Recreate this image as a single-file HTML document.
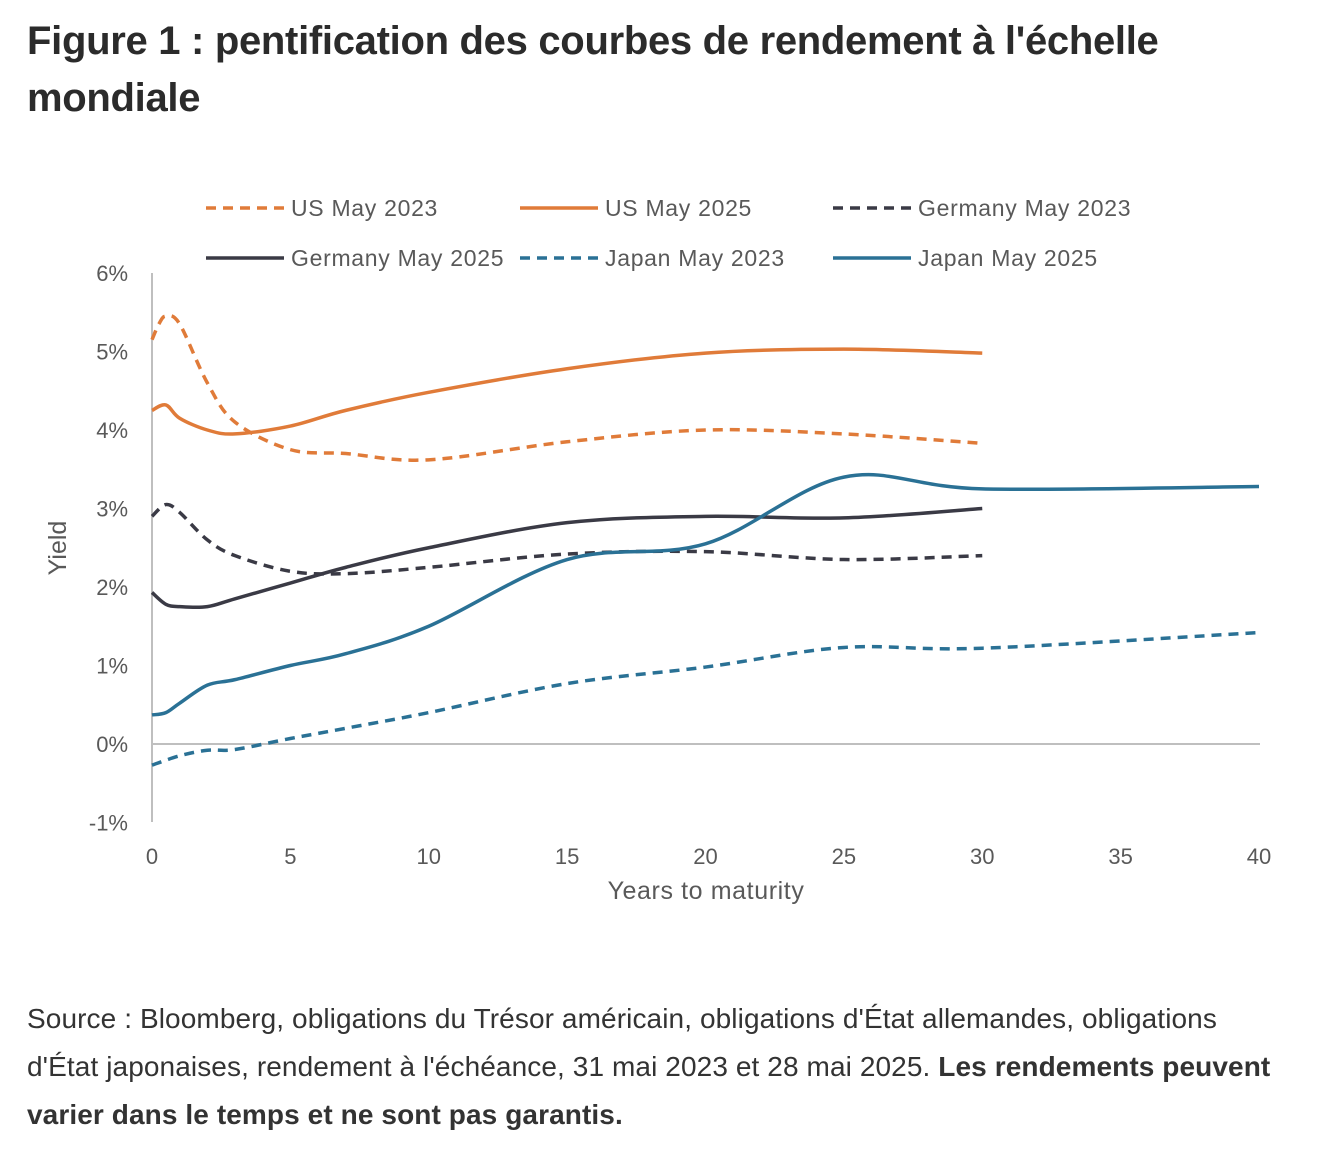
<!DOCTYPE html>
<html><head><meta charset="utf-8">
<style>
body{margin:0;background:#fff;width:1334px;height:1152px;overflow:hidden;font-family:"Liberation Sans",sans-serif;}
#title{position:absolute;left:27px;top:13px;width:1200px;font-size:40px;font-weight:900;color:#2b2b2b;line-height:57px;letter-spacing:-0.3px;margin:0;}
#source{position:absolute;left:27px;top:995px;width:1258px;font-size:28px;color:#333;line-height:48px;letter-spacing:0.1px;}
svg{position:absolute;left:0;top:0;}
text{font-family:"Liberation Sans",sans-serif;fill:#595959;}
</style></head><body>
<h1 id="title">Figure 1 : pentification des courbes de rendement à l'échelle mondiale</h1>
<svg id="chart" width="1334" height="960"></svg>
<div id="source">Source : Bloomberg, obligations du Trésor américain, obligations d'État allemandes, obligations d'État japonaises, rendement à l'échéance, 31 mai 2023 et 28 mai 2025. <b>Les rendements peuvent varier dans le temps et ne sont pas garantis.</b></div>
<script>
const xTicks=[0,5,10,15,20,25,30,35,40];
const yTicks=[-1,0,1,2,3,4,5,6];
const seriesNames=["US May 2023","US May 2025","Germany May 2023","Germany May 2025","Japan May 2023","Japan May 2025"];
const usMay2023X=[0,0.25,0.5,1,2,3,5,7,10,15,20,25,30];
const usMay2023Y=[5.15,5.35,5.45,5.35,4.6,4.1,3.75,3.7,3.62,3.85,4.0,3.95,3.83];
const usMay2025X=[0,0.5,1,2,3,5,7,10,15,20,25,30];
const usMay2025Y=[4.25,4.32,4.15,4.0,3.95,4.05,4.25,4.48,4.78,4.98,5.03,4.98];
const deMay2023X=[0,0.5,1,2,3,5,7,10,15,20,25,30];
const deMay2023Y=[2.9,3.05,2.95,2.6,2.4,2.2,2.17,2.25,2.42,2.45,2.35,2.4];
const deMay2025X=[0,0.5,1,2,3,5,7,10,15,20,25,30];
const deMay2025Y=[1.93,1.78,1.75,1.75,1.85,2.05,2.25,2.5,2.82,2.9,2.88,3.0];
const jpMay2023X=[0,1,2,3,5,7,10,15,20,25,30,40];
const jpMay2023Y=[-0.27,-0.15,-0.08,-0.07,0.07,0.2,0.4,0.77,0.98,1.23,1.22,1.42];
const jpMay2025X=[0,0.5,1,2,3,5,7,10,15,20,25,30,40];
const jpMay2025Y=[0.37,0.4,0.52,0.75,0.82,1.0,1.15,1.5,2.35,2.55,3.4,3.25,3.28];

const NS="http://www.w3.org/2000/svg";
const svg=document.getElementById('chart');
const sx=v=>152+v*(1259-152)/40;
const sy=v=>744-v*78.5;
function mk(t,a,p){const e=document.createElementNS(NS,t);for(const k in a)e.setAttribute(k,a[k]);(p||svg).appendChild(e);return e;}

const yAxis=mk('line',{x1:152,y1:273,x2:152,y2:822,stroke:'#bfbfbf','stroke-width':2});


const zero=mk('line',{x1:152,y1:sy(0),x2:1260,y2:sy(0),stroke:'#bfbfbf','stroke-width':2});


yTicks.forEach(v=>{const t=mk('text',{x:128,y:sy(v)+8,'text-anchor':'end','font-size':22});t.textContent=v+'%';

});
xTicks.forEach(v=>{const t=mk('text',{x:sx(v),y:864,'text-anchor':'middle','font-size':22});t.textContent=v;

});
const xt=mk('text',{x:706,y:899,'text-anchor':'middle','font-size':25,'letter-spacing':0.6});xt.textContent='Years to maturity';


const yt=mk('text',{x:66,y:548,'text-anchor':'middle','font-size':25,transform:'rotate(-90 66 548)'});yt.textContent='Yield';



function path(xs,ys){const P=xs.map((x,i)=>[sx(x),sy(ys[i])]);let d='M'+P[0][0]+','+P[0][1];
for(let i=0;i<P.length-1;i++){const p0=P[i-1]||P[i],p1=P[i],p2=P[i+1],p3=P[i+2]||P[i+1];
const c1=[p1[0]+(p2[0]-p0[0])/6,p1[1]+(p2[1]-p0[1])/6],c2=[p2[0]-(p3[0]-p1[0])/6,p2[1]-(p3[1]-p1[1])/6];
d+=`C${c1[0]},${c1[1]} ${c2[0]},${c2[1]} ${p2[0]},${p2[1]}`;}return d;}
const data=[[usMay2023X,usMay2023Y],[usMay2025X,usMay2025Y],[deMay2023X,deMay2023Y],[deMay2025X,deMay2025Y],[jpMay2023X,jpMay2023Y],[jpMay2025X,jpMay2025Y]];
const colors=['#e07b39','#e07b39','#3a3a45','#3a3a45','#2a7195','#2a7195'];
const dashed=[true,false,true,false,true,false];
const slugs=['us-may-2023','us-may-2025','germany-may-2023','germany-may-2025','japan-may-2023','japan-may-2025'];
data.forEach((s,i)=>{const p=mk('path',{d:path(s[0],s[1]),fill:'none',stroke:colors[i],'stroke-width':3.5,'stroke-dasharray':dashed[i]?'10 7':'none'});

});
const lx=[206,520,833],ly=[208,258];
seriesNames.forEach((n,i)=>{const x=lx[i%3],y=ly[Math.floor(i/3)];
const g=mk('g',{});


mk('line',{x1:x,y1:y,x2:x+78,y2:y,stroke:colors[i],'stroke-width':3.5,'stroke-dasharray':dashed[i]?'10 7':'none'},g);
const t=mk('text',{x:x+85,y:y+8,'font-size':23,'letter-spacing':0.7},g);t.textContent=n;});
</script>
</body></html>
